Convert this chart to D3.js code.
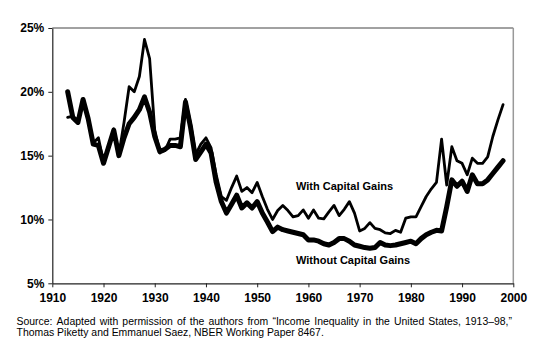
<!DOCTYPE html>
<html>
<head>
<meta charset="utf-8">
<script src="https://cdn.jsdelivr.net/npm/d3@7"></script>
<style>
  body { margin: 0; background: #fff; }
  svg { display: block; font-family: "Liberation Sans", Arial, sans-serif; }
</style>
</head>
<body>
<div id="chart"></div>
<script>
// top 1% income share
var years = d3.range(1913, 1999);

var withGains = [
  18.0, 18.1, 17.6, 19.3, 18.0, 16.0, 16.4, 14.5, 15.8, 17.1,   // 1913-1922
  15.1, 17.6, 20.4, 20.0, 21.2, 24.1, 22.6, 17.0, 15.3, 15.4,   // 1923-1932
  16.3, 16.3, 16.4, 19.4, 17.5, 15.1, 15.9, 16.4, 15.6, 13.5,   // 1933-1942
  11.8, 11.5, 12.5, 13.4, 12.2, 12.5, 12.1, 12.9, 11.8, 10.8,   // 1943-1952
  10.0, 10.7, 11.1, 10.7, 10.2, 10.3, 10.75, 10.1, 10.75, 10.1, // 1953-1962
  10.05, 10.6, 11.1, 10.3, 10.8, 11.4, 10.5, 9.1, 9.3, 9.75,    // 1963-1972
  9.3, 9.2, 8.95, 8.9, 9.15, 9.0, 10.1, 10.2, 10.2, 11.0,       // 1973-1982
  11.8, 12.4, 12.9, 16.3, 12.7, 15.7, 14.6, 14.4, 13.5, 14.8,   // 1983-1992
  14.4, 14.4, 14.9, 16.5, 17.8, 19.0                            // 1993-1998
];

var withoutGains = [
  20.0, 18.0, 17.6, 19.4, 17.9, 15.9, 15.8, 14.4, 15.7, 17.0,   // 1913-1922
  15.0, 16.4, 17.5, 18.0, 18.6, 19.6, 18.4, 16.5, 15.3, 15.5,   // 1923-1932
  15.8, 15.8, 15.7, 19.2, 17.2, 14.7, 15.3, 15.9, 15.2, 12.9,   // 1933-1942
  11.4, 10.5, 11.2, 11.9, 10.9, 11.3, 10.9, 11.4, 10.5, 9.8,    // 1943-1952
  9.05, 9.4, 9.2, 9.1, 9.0, 8.9, 8.8, 8.4, 8.4, 8.3,            // 1953-1962
  8.1, 8.0, 8.2, 8.5, 8.5, 8.3, 8.0, 7.9, 7.8, 7.75,            // 1963-1972
  7.8, 8.2, 8.0, 7.95, 8.0, 8.1, 8.2, 8.3, 8.1, 8.5,            // 1973-1982
  8.8, 9.0, 9.15, 9.1, 11.0, 13.1, 12.6, 13.0, 12.2, 13.5,      // 1983-1992
  12.8, 12.8, 13.1, 13.6, 14.1, 14.6                            // 1993-1998
];

var xTicks = d3.range(1910, 2001, 10);
var yTicks = [5, 10, 15, 20, 25];

var source1 = "Source: Adapted with permission of the authors from \u201cIncome Inequality in the United States, 1913\u201398,\u201d";
var source2 = "Thomas Piketty and Emmanuel Saez, NBER Working Paper 8467.";

var width = 542, height = 352;

var svg = d3.select("#chart").append("svg")
  .attr("width", width)
  .attr("height", height);

var x = d3.scaleLinear().domain([1910, 2000]).range([52.3, 513.3]);
var y = d3.scaleLinear().domain([5, 25]).range([283.3, 28]);

// frame: top and right
svg.append("line")
  .attr("x1", x(1910)).attr("x2", x(2000))
  .attr("y1", y(25)).attr("y2", y(25))
  .attr("stroke", "#444").attr("stroke-width", 1);
svg.append("line")
  .attr("x1", x(2000)).attr("x2", x(2000))
  .attr("y1", y(25)).attr("y2", y(5))
  .attr("stroke", "#999").attr("stroke-width", 1.5);

var xAxis = svg.append("g")
  .attr("transform", "translate(0," + y(5) + ")")
  .call(d3.axisBottom(x).tickValues(xTicks).tickFormat(d3.format("d")).tickSize(4).tickSizeOuter(0));

var yAxis = svg.append("g")
  .attr("transform", "translate(" + x(1910) + ",0)")
  .call(d3.axisLeft(y).tickValues(yTicks).tickFormat(function(d){ return d + "%"; }).tickSize(4).tickSizeOuter(0));

[xAxis, yAxis].forEach(function(g){
  g.select(".domain").attr("stroke", "#222").attr("stroke-width", 1.2);
  g.selectAll(".tick line").attr("stroke", "#222");
  g.selectAll(".tick text")
    .attr("fill", "#000")
    .style("font-family", "\"Liberation Sans\", Arial, sans-serif")
    .style("font-size", "12px")
    .style("font-weight", "bold");
});
xAxis.selectAll(".tick text").attr("y", 10);
yAxis.selectAll(".tick text").attr("x", -8);

var line = d3.line()
  .x(function(d, i){ return x(years[i]); })
  .y(function(d){ return y(d); });

svg.append("path")
  .datum(withGains)
  .attr("fill", "none")
  .attr("stroke", "#000")
  .attr("stroke-width", 2.8)
  .attr("stroke-linejoin", "round")
  .attr("stroke-linecap", "round")
  .attr("d", line);

svg.append("path")
  .datum(withoutGains)
  .attr("fill", "none")
  .attr("stroke", "#000")
  .attr("stroke-width", 5)
  .attr("stroke-linejoin", "round")
  .attr("stroke-linecap", "round")
  .attr("d", line);

svg.append("text")
  .attr("x", 296).attr("y", 189.5)
  .style("font-size", "11px").style("font-weight", "bold")
  .text("With Capital Gains");

svg.append("text")
  .attr("x", 296).attr("y", 264)
  .style("font-size", "11px").style("font-weight", "bold")
  .text("Without Capital Gains");

// source note, first line justified by spreading the words
var fs = "10.45px";
var words = source1.split(" ");
var left = 16.5, right = 512;
var probe = svg.append("g").style("font-size", fs);
var widths = words.map(function(w){
  var t = probe.append("text").text(w);
  var len = t.node().getComputedTextLength();
  t.remove();
  return len;
});
probe.remove();
var gap = (right - left - d3.sum(widths)) / (words.length - 1);
var pos = left;
var src = svg.append("g").style("font-size", fs).attr("fill", "#000");
words.forEach(function(w, i){
  src.append("text").attr("x", pos).attr("y", 325.3).text(w);
  pos += widths[i] + gap;
});
src.append("text").attr("x", left).attr("y", 335.5).text(source2);
</script>
</body>
</html>
